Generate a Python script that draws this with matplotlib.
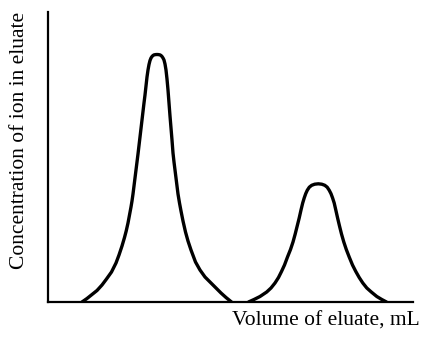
import numpy as np
import matplotlib.pyplot as plt

# elution profile (arbitrary units)
volume_a = [82, 87, 92, 97, 102, 106.5, 111.5, 116, 119, 122, 124.5, 126.2,
            128, 129.5, 131, 132, 133, 134, 135, 136, 137, 138, 139, 140, 141,
            142, 143, 144, 145, 146, 147, 148, 149, 150, 151, 152, 153, 154,
            155.5, 157, 158.5, 160, 161, 162, 163, 164, 165, 166, 167, 168,
            169, 170, 171, 172, 173, 174, 175, 176, 177, 178, 179.5, 181, 183,
            185.5, 188, 191, 195.5, 200, 205, 211, 216, 221, 226, 231.5]
conc_a = [0, 3.5, 7.5, 11.5, 17, 23, 30, 39, 47, 56, 64.5, 71, 79, 87, 95,
          101, 108, 116, 124, 132, 140, 148, 156.5, 165, 173.5, 182, 190.5,
          199, 207, 216, 225, 232, 237.5, 241.5, 244, 245.5, 246.5, 247.1,
          247.4, 247.5, 247.4, 247.1, 246.5, 245.5, 244, 242, 238, 232, 223,
          212, 199, 186, 174, 162, 149, 140, 132, 124, 116, 108, 99, 91, 81,
          70, 61, 52, 40, 32, 25, 19, 14, 9, 4.5, 0]

volume_b = [248.5, 254, 260, 266.7, 271, 275, 278.5, 281.5, 284.5, 287.5,
            290.5, 293, 295.2, 297.2, 299.2, 301, 302.7, 304.2, 305.7, 307.3,
            309.3, 311.7, 314.7, 318.3, 321.8, 324.8, 327.2, 329.2, 331,
            332.6, 334.2, 335.8, 337.6, 339.5, 341.5, 343.8, 346.3, 349.2,
            352.5, 355.8, 359.2, 362.8, 366.8, 371.3, 376.8, 381.8, 386.5]
conc_b = [0, 2.5, 5.5, 10, 14, 19, 24.5, 30.5, 37, 45, 52.5, 60, 68, 76, 84,
          92, 99, 104, 108.3, 111.8, 114.8, 116.7, 117.8, 118.2, 117.8, 116.7,
          114.8, 111.8, 108.3, 104, 99, 92, 84, 76, 68, 60, 52.5, 45, 37, 30.5,
          24.5, 19, 14, 10, 5.5, 2.5, 0]

plt.rcParams['font.family'] = ['Liberation Serif', 'DejaVu Serif']

fig = plt.figure(figsize=(4.21, 3.46), dpi=100)
ax = fig.add_axes([48 / 421, 44 / 346, 365 / 421, 290 / 346])

for v, c in [(volume_a, conc_a), (volume_b, conc_b)]:
    ax.plot(v, c, color='black', lw=2.4, solid_capstyle='round',
            solid_joinstyle='round')

ax.set_xlim(48, 413)
ax.set_ylim(0, 290)
ax.set_xticks([])
ax.set_yticks([])
for s in ['top', 'right']:
    ax.spines[s].set_visible(False)
ax.spines['left'].set_linewidth(1.6)
ax.spines['bottom'].set_linewidth(1.6)

fig.text(20 / 421, 1 - 140 / 346, 'Concentration of ion in eluate',
         rotation=90, ha='center', va='center', fontsize=15.5)
fig.text(420 / 421, 1 - 321 / 346, 'Volume of eluate, mL',
         ha='right', va='center', fontsize=15.5)

fig.savefig('out.png', dpi=100, facecolor='white')
